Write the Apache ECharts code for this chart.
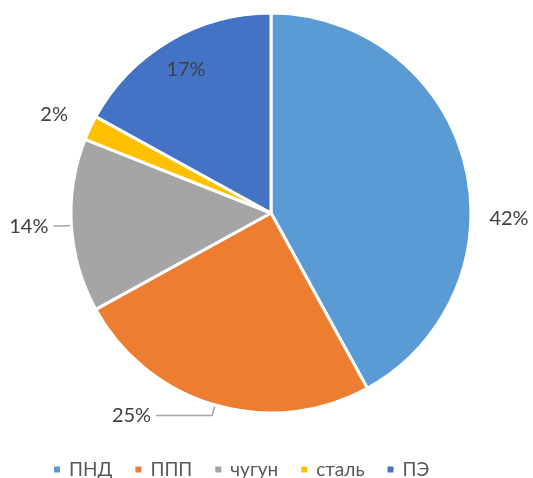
<!DOCTYPE html>
<html>
<head>
<meta charset="utf-8">
<script src="https://cdn.jsdelivr.net/npm/echarts@6/dist/echarts.min.js"></script>
<style>
html, body { margin: 0; padding: 0; background: #fff; }
#chart { width: 533px; height: 478px; }
</style>
</head>
<body>
<div id="chart"></div>
<script>
// данные
const categories = ['ПНД', 'ППП', 'чугун', 'сталь', 'ПЭ']
const shares = [42, 25, 14, 2, 17]
const colors = ['#5B9BD5', '#ED7D31', '#A5A5A5', '#FFC000', '#4472C4']

const font = 'Lato, "Open Sans", sans-serif'

let pieData = categories.map((name, i) => ({
    name: name,
    value: shares[i],
    itemStyle: { color: colors[i] }
}))

// сдвиги подписей без выносок, как в Excel
const labelShift = [
    { dx: 2, dy: 58 },
    {},
    {},
    { dx: 0, dy: -9 },
    {}
]

let chart = echarts.init(document.getElementById('chart'))

chart.setOption({
    animation: false,
    legend: {
        top: 455,
        left: 47,
        icon: 'rect',
        itemWidth: 8,
        itemHeight: 8,
        itemGap: 21,
        data: categories,
        textStyle: { fontFamily: font, fontSize: 19, color: '#595959', padding: [0, 0, 0, 3] }
    },
    series: [
        {
            type: 'pie',
            center: [271, 213],
            radius: [0, 200],
            startAngle: 90,
            clockwise: true,
            itemStyle: { borderColor: '#fff', borderWidth: 3 },
            label: {
                show: true,
                position: 'outside',
                formatter: '{d}%',
                overflow: 'none',
                edgeDistance: 0,
                fontFamily: font,
                fontSize: 20,
                color: '#404040'
            },
            labelLine: {
                show: true,
                length: 10,
                length2: 8,
                lineStyle: { color: '#A6A6A6', width: 1.5 }
            },
            labelLayout: function (params) {
                return labelShift[params.dataIndex]
            },
            data: pieData.map((d, i) => {
                let item = Object.assign({}, d)
                if (i === 0 || i === 3) item.labelLine = { show: false }
                if (i === 1) item.labelLine = { length: 11, length2: 56 }
                if (i === 2) item.labelLine = { length: 8, length2: 10 }
                if (i === 4) item.label = { show: false }
                return item
            })
        },
        {
            // подпись ПЭ внутри сектора
            type: 'pie',
            center: [271, 213],
            radius: [128, 200],
            startAngle: 90,
            silent: true,
            itemStyle: { color: 'transparent', borderWidth: 0 },
            label: {
                show: false,
                position: 'inside',
                formatter: '{d}%',
                fontFamily: font,
                fontSize: 20,
                color: '#404040'
            },
            labelLine: { show: false },
            data: pieData.map((d, i) => ({
                name: d.name,
                value: d.value,
                itemStyle: { color: 'transparent' },
                label: { show: i === 4 }
            }))
        }
    ]
})
</script>
</body>
</html>
